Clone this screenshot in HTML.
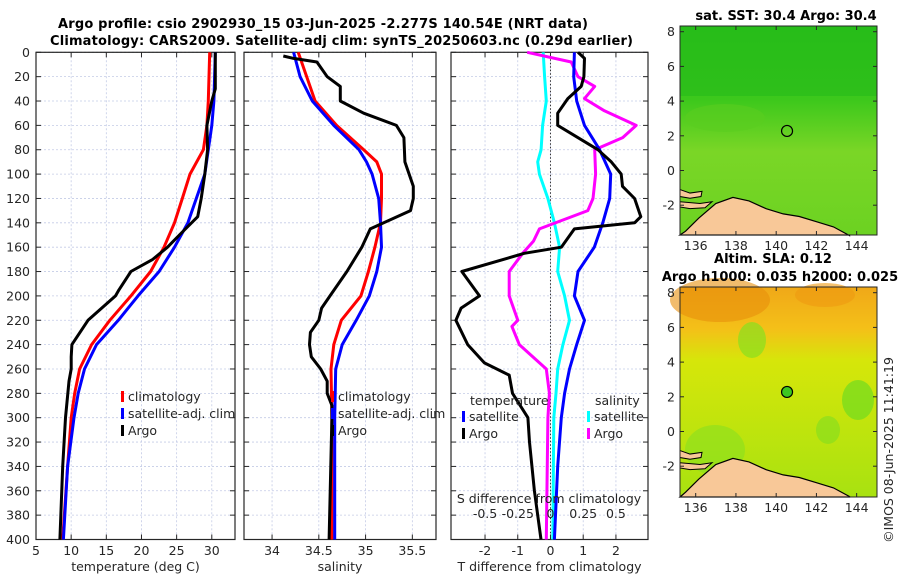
<!DOCTYPE html>
<html><head><meta charset="utf-8"><style>
body{margin:0;background:#fff;}
svg{display:block;font-family:"DejaVu Sans","Liberation Sans",sans-serif;}
.t{font-size:12.5px;fill:#262626}
.b{font-weight:bold;font-size:13px;fill:#000}
</style></head><body>
<svg id="s" width="900" height="580" viewBox="0 0 900 580">
<defs>
<linearGradient id="sstg" x1="0" y1="0" x2="0" y2="1">
<stop offset="0" stop-color="#2cc21a"/><stop offset="0.35" stop-color="#3cc81c"/><stop offset="0.6" stop-color="#7ad626"/><stop offset="1" stop-color="#6cd222"/></linearGradient>
<linearGradient id="slag" x1="0" y1="0" x2="0" y2="1">
<stop offset="0" stop-color="#f0a818"/><stop offset="0.2" stop-color="#f4c018"/><stop offset="0.35" stop-color="#d6e60a"/><stop offset="1" stop-color="#a8e210"/></linearGradient>
</defs>
<g>
<text class="b" x="58" y="28" textLength="530">Argo profile: csio 2902930_15 03-Jun-2025 -2.277S 140.54E (NRT data)</text>
<text class="b" x="50" y="45" textLength="583">Climatology: CARS2009. Satellite-adj clim: synTS_20250603.nc (0.29d earlier)</text>
</g>
<g id="plots"></g>
<g id="maps"></g>
<text class="t" transform="translate(893,450) rotate(-90)" text-anchor="middle">©IMOS 08-Jun-2025 11:41:19</text>
</svg>
<script>
// ---- data ----
const tempDepth=[0,40,60,80,100,120,140,160,180,200,220,240,260,280,300,340,400];
const tempClim=[29.7,29.5,29.3,28.8,26.9,25.8,24.7,23.2,21.3,18.5,15.5,12.9,11.2,10.5,10.0,9.5,8.8];
const tempSat=[30.5,30.3,30.0,29.5,29.0,27.8,26.6,24.7,22.5,19.5,16.7,13.6,11.9,11.0,10.4,9.5,8.9];
const argoTDepth=[0,30,40,60,80,100,120,135,150,160,170,180,195,200,220,240,250,260,270,300,340,400];
const argoT=[30.5,30.5,30.0,29.3,29.4,29.0,28.5,28.0,25.4,23.7,21.6,18.5,16.8,16.3,12.4,10.1,10.0,10.0,9.7,9.2,8.8,8.4];
const salDepth=[0,20,40,60,80,90,100,120,140,160,180,200,220,240,260,300,400];
const salClim=[34.28,34.37,34.46,34.69,34.98,35.12,35.17,35.17,35.16,35.10,35.03,34.95,34.74,34.66,34.63,34.64,34.64];
const salSat=[34.23,34.30,34.43,34.66,34.93,35.01,35.07,35.14,35.16,35.17,35.12,35.04,34.90,34.75,34.68,34.67,34.67];
const argoSDepth=[3,5,8,20,28,40,50,60,70,90,110,120,130,145,160,180,200,210,220,230,240,250,260,270,280,290,300,400];
const argoS=[34.12,34.23,34.48,34.59,34.73,34.73,34.98,35.33,35.41,35.42,35.51,35.51,35.48,35.05,34.96,34.80,34.62,34.53,34.50,34.41,34.40,34.42,34.52,34.59,34.59,34.64,34.64,34.61];
const dTSatDepth=[0,20,40,60,80,100,120,140,160,180,200,220,240,260,280,300,340,400];
const dTSat=[0.73,0.71,0.8,1.04,1.5,1.84,1.81,1.6,1.34,0.84,0.73,1.04,0.8,0.58,0.43,0.33,0.22,0.12];
const dTArgoDepth=[0,5,20,28,38,50,60,80,90,100,110,120,135,140,145,160,165,180,200,210,220,240,255,265,280,300,320,360,400];
const dTArgo=[0.84,1.04,1.02,0.94,0.53,0.22,0.22,1.45,1.86,2.16,2.2,2.57,2.76,2.57,0.73,0.33,-0.8,-2.71,-2.17,-2.73,-2.89,-2.53,-2.02,-1.26,-1.16,-0.69,-0.64,-0.49,-0.29];
const dSSatDepth=[0,20,40,60,80,90,100,120,140,160,180,200,220,240,260,280,300,400];
const dSSat=[-0.056,-0.045,-0.032,-0.06,-0.072,-0.098,-0.085,-0.02,0.03,0.07,0.055,0.108,0.145,0.095,0.055,0.042,0.025,0.018];
const dSArgoDepth=[0,8,20,28,38,48,60,70,80,100,120,130,145,155,165,180,200,220,225,240,260,280,300,400];
const dSArgo=[-0.178,0.158,0.21,0.338,0.26,0.412,0.655,0.552,0.338,0.345,0.325,0.285,-0.085,-0.13,-0.212,-0.315,-0.315,-0.25,-0.295,-0.238,-0.032,-0.008,-0.02,-0.032];
const depthTicks=[0,20,40,60,80,100,120,140,160,180,200,220,240,260,280,300,320,340,360,380,400];
const tTicks=[5,10,15,20,25,30];
const sTicks=[34,34.5,35,35.5];
const dTTicks=[-2,-1,0,1,2];
const dSTicks=["-0.5","-0.25","0","0.25","0.5"];
const latTicks=[8,6,4,2,0,-2];
const lonTicks=[136,138,140,142,144];
// ---- helpers ----
const NS="http://www.w3.org/2000/svg";
function mk(tag,attrs,parent,txt){const e=document.createElementNS(NS,tag);for(const k in attrs)e.setAttribute(k,attrs[k]);if(txt!==undefined)e.textContent=txt;parent.appendChild(e);return e;}
const Y0=52.3,Y1=539.5;
const yD=d=>Y0+(d/400)*(Y1-Y0);
const plots=document.getElementById('plots');
function panel(name,x0,x1,xmin,xmax,ticks,labelTxt,showY){
  const g=mk('g',{},plots);
  
  
  const sx=v=>x0+(v-xmin)/(xmax-xmin)*(x1-x0);
  depthTicks.forEach(d=>{const y=yD(d);
    const gl=mk('line',{x1:x0,x2:x1,y1:y,y2:y,stroke:'#c4cbe6','stroke-width':0.8,'stroke-dasharray':'2,2'},g);
    
    
    mk('line',{x1:x0,x2:x0+5,y1:y,y2:y,stroke:'#262626'},g);
    mk('line',{x1:x1-5,x2:x1,y1:y,y2:y,stroke:'#262626'},g);
    if(showY){const t=mk('text',{x:x0-6,y:y+4.5,'text-anchor':'end',class:'t'},g,String(d));
      
      }
  });
  ticks.forEach(v=>{const x=sx(v);
    mk('line',{x1:x,x2:x,y1:Y0,y2:Y1,stroke:'#c4cbe6','stroke-width':0.8,'stroke-dasharray':'2,2'},g);
    mk('line',{x1:x,x2:x,y1:Y1,y2:Y1-5,stroke:'#262626'},g);
    mk('line',{x1:x,x2:x,y1:Y0,y2:Y0+5,stroke:'#262626'},g);
    const t=mk('text',{x:x,y:555,'text-anchor':'middle',class:'t'},g,String(v));
    
    
  });
  const fr=mk('rect',{x:x0,y:Y0,width:x1-x0,height:Y1-Y0,fill:'none',stroke:'#262626','stroke-width':1.2},g);
  
  
  const xl=mk('text',{x:(x0+x1)/2,y:571,'text-anchor':'middle',class:'t'},g,labelTxt);
  
  
  return {g,sx};
}
function line(p,vals,depths,color,name,scale){
  const d=vals.map((v,i)=>(i?'L':'M')+p.sx(v*(scale||1)).toFixed(1)+','+yD(depths[i]).toFixed(1)).join(' ');
  const e=mk('path',{d:d,fill:'none',stroke:color,'stroke-width':3,'stroke-linejoin':'round'},p.g);
  
  
}
function legend(g,x,y,color,txt,name){
  const r=mk('rect',{x:x-2,y:y-10,width:3,height:11,fill:color},g);
  const t=mk('text',{x:x+5,y:y,class:'t'},g,txt);
  
  
}
// temperature panel
const p1=panel('temperature-panel',36,235,5,33.3,tTicks,'temperature (deg C)',true);
line(p1,tempClim,tempDepth,'#ff0000','climatology-temp-line');
line(p1,tempSat,tempDepth,'#0000ff','satellite-temp-line');
line(p1,argoT,argoTDepth,'#000','argo-temp-line');
legend(p1.g,123,401,'#ff0000','climatology','legend-climatology');
legend(p1.g,123,418,'#0000ff','satellite-adj. clim','legend-satellite');
legend(p1.g,123,435,'#000','Argo','legend-argo');
// salinity panel
const p2=panel('salinity-panel',244,436,33.7,35.753,sTicks,'salinity',false);
line(p2,salClim,salDepth,'#ff0000','climatology-salinity-line');
line(p2,salSat,salDepth,'#0000ff','satellite-salinity-line');
line(p2,argoS,argoSDepth,'#000','argo-salinity-line');
legend(p2.g,333,401,'#ff0000','climatology','legend-climatology');
legend(p2.g,333,418,'#0000ff','satellite-adj. clim','legend-satellite');
legend(p2.g,333,435,'#000','Argo','legend-argo');
// difference panel
const p3=panel('difference-panel',451,648,-3.04,2.98,dTTicks,'T difference from climatology',false);
mk('line',{x1:p3.sx(0),x2:p3.sx(0),y1:Y0,y2:Y1,stroke:'#333','stroke-width':1,'stroke-dasharray':'1.5,2'},p3.g);
line(p3,dSSat,dSSatDepth,'#00ffff','satellite-salinity-diff-line',4);
line(p3,dSArgo,dSArgoDepth,'#ff00ff','argo-salinity-diff-line',4);
line(p3,dTSat,dTSatDepth,'#0000ff','satellite-temp-diff-line');
line(p3,dTArgo,dTArgoDepth,'#000','argo-temp-diff-line');
{const t=mk('text',{x:470,y:405,class:'t'},p3.g,'temperature');
 const s=mk('text',{x:595,y:405,class:'t'},p3.g,'salinity');}
legend(p3.g,464,421,'#0000ff','satellite','legend-temp-satellite');
legend(p3.g,464,438,'#000','Argo','legend-temp-argo');
legend(p3.g,589,421,'#00ffff','satellite','legend-sal-satellite');
legend(p3.g,589,438,'#ff00ff','Argo','legend-sal-argo');
{const t=mk('text',{x:549,y:503,'text-anchor':'middle',class:'t'},p3.g,'S difference from climatology');
 
 dSTicks.forEach(v=>{const l=mk('text',{x:p3.sx(parseFloat(v)*4),y:518,'text-anchor':'middle',class:'t'},p3.g,v);
  
  });}
// ---- maps ----
const maps=document.getElementById('maps');
const coast=[[135.5,-3.5],[136.15,-2.75],[137.0,-1.9],[137.85,-1.55],[138.65,-1.75],[139.5,-2.2],[140.35,-2.5],[141.15,-2.65],[142.0,-2.95],[142.85,-3.25],[143.65,-3.75]];
function mapPanel(name,top,bot,fill,title1,title2,circleFill){
  const g=mk('g',{},maps);
  
  
  const x0=680,x1=877;
  const sx=lo=>695.7+(lo-136)*20.12;
  const sy=la=>(top+5.7)+(8-la)*17.35;
  mk('rect',{x:x0,y:top,width:x1-x0,height:bot-top,fill:fill},g);
  if(name==='sst-map'){
    mk('rect',{x:x0,y:top,width:197,height:70,fill:'#22b818',opacity:0.5},g);
    mk('ellipse',{cx:725,cy:118,rx:40,ry:14,fill:'#5acd20',opacity:0.6},g);
  } else {
    mk('ellipse',{cx:720,cy:300,rx:50,ry:22,fill:'#e8900c',opacity:0.6},g);
    mk('ellipse',{cx:825,cy:295,rx:30,ry:12,fill:'#ee9a10',opacity:0.6},g);
    mk('ellipse',{cx:752,cy:340,rx:14,ry:18,fill:'#88e020',opacity:0.7},g);
    mk('ellipse',{cx:858,cy:400,rx:16,ry:20,fill:'#70dc20',opacity:0.7},g);
    mk('ellipse',{cx:828,cy:430,rx:12,ry:14,fill:'#80de20',opacity:0.6},g);
    mk('ellipse',{cx:715,cy:450,rx:30,ry:25,fill:'#88e020',opacity:0.6},g);
  }
  const pts=coast.map(c=>sx(c[0]).toFixed(1)+','+sy(c[1]).toFixed(1));
  const land=mk('polygon',{points:x0+','+bot+' '+pts.join(' ')+' '+sx(143.65)+','+bot,fill:'#f8c898',stroke:'#000','stroke-width':1.2},g);
  
  
  mk('polygon',{points:`680,${sy(-1.1)} 690,${sy(-1.3)} 702,${sy(-1.2)} 701,${sy(-1.5)} 690,${sy(-1.6)} 680,${sy(-1.5)}`,fill:'#f8c898',stroke:'#000','stroke-width':1},g);
  mk('polygon',{points:`680,${sy(-1.8)} 700,${sy(-1.9)} 712,${sy(-1.8)} 705,${sy(-2.15)} 690,${sy(-2.2)} 680,${sy(-2.1)}`,fill:'#f8c898',stroke:'#000','stroke-width':1},g);
  const c=mk('circle',{cx:sx(140.54),cy:sy(2.28),r:5.5,fill:circleFill,stroke:'#000','stroke-width':1.2},g);
  
  
  mk('rect',{x:x0,y:top,width:x1-x0,height:bot-top,fill:'none',stroke:'#262626'},g);
  latTicks.forEach(la=>{const y=sy(la);
    mk('line',{x1:x0,x2:x0+4,y1:y,y2:y,stroke:'#262626'},g);mk('line',{x1:x1-4,x2:x1,y1:y,y2:y,stroke:'#262626'},g);
    const t=mk('text',{x:x0-5,y:y+4.5,'text-anchor':'end',class:'t'},g,String(la));
    
    });
  lonTicks.forEach(lo=>{const x=sx(lo);
    mk('line',{x1:x,x2:x,y1:bot,y2:bot-4,stroke:'#262626'},g);mk('line',{x1:x,x2:x,y1:top,y2:top+4,stroke:'#262626'},g);
    const t=mk('text',{x:x,y:bot+15,'text-anchor':'middle',class:'t'},g,String(lo));
    
    });
  if(title2){
    const a=mk('text',{x:773,y:top-24,'text-anchor':'middle',class:'b'},g,title1);
    const b=mk('text',{x:780,y:top-6,'text-anchor':'middle',class:'b'},g,title2);
  } else {
    const a=mk('text',{x:786,y:top-6,'text-anchor':'middle',class:'b'},g,title1);
  }
}
mapPanel('sst-map',26,235,'url(#sstg)','sat. SST: 30.4 Argo: 30.4',null,'none');
mapPanel('sla-map',287,497,'url(#slag)','Altim. SLA: 0.12','Argo h1000: 0.035 h2000: 0.025','#3cc820');
</script>
</body></html>
